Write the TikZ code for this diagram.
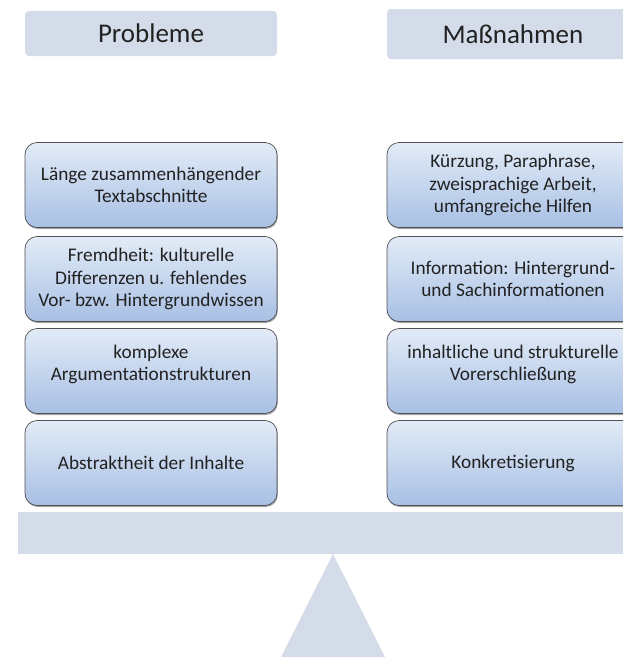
\documentclass[tikz,border=0pt]{standalone}
\usepackage{fontspec}
\setmainfont{Carlito}
\usetikzlibrary{shadows}
\definecolor{hdr}{HTML}{D4DCEA}
\definecolor{boxtop}{HTML}{E2EBF7}
\definecolor{boxbot}{HTML}{A8C0E4}
\definecolor{boxline}{HTML}{505050}
\definecolor{txt}{HTML}{222222}
\tikzset{
  hdrbox/.style={fill=hdr, rounded corners=4pt, minimum width=252pt, inner sep=0pt, outer sep=0pt,
    text=txt, font=\fontsize{27}{32}\selectfont},
  itembox/.style={draw=boxline, line width=0.7pt, rounded corners=12pt, top color=boxtop, bottom color=boxbot,
    minimum width=252pt, minimum height=85pt, inner sep=0pt, outer sep=0pt, align=center, text=txt,
    font=\fontsize{19.3}{22.5}\selectfont,
    drop shadow={shadow xshift=0.8pt, shadow yshift=-1.5pt, opacity=0.35, fill=black}},
  beamshape/.style={fill=hdr, minimum width=622pt, minimum height=42pt, inner sep=0pt, outer sep=0pt},
}
\begin{document}
\begin{tikzpicture}[x=1pt,y=-1pt]
\useasboundingbox (0,0) rectangle (623,657);
\clip (0,0) rectangle (623,657);
% headers
\node[hdrbox, minimum height=45pt] (hl) at (151,33.5) {Probleme};
\node[hdrbox, minimum height=50pt] (hr) at (513,34) {Maßnahmen};
% left column
\node[itembox] (l1) at (151,185) {Länge zusammenhängender\\Textabschnitte};
\node[itembox] (l2) at (151,279) {Fremdheit: kulturelle\\Differenzen u. fehlendes\\Vor- bzw. Hintergrundwissen};
\node[itembox] (l3) at (151,371) {komplexe\\Argumentationstrukturen\\[-6pt]\mbox{}};
\node[itembox] (l4) at (151,463) {Abstraktheit der Inhalte};
% right column
\node[itembox] (r1) at (513,185) {Kürzung, Paraphrase,\\zweisprachige Arbeit,\\umfangreiche Hilfen};
\node[itembox] (r2) at (513,279) {Information: Hintergrund-\\und Sachinformationen};
\node[itembox] (r3) at (513,371) {inhaltliche und strukturelle\\Vorerschließung\\[-6pt]\mbox{}};
\node[itembox] (r4) at (513,463) {Konkretisierung};
% beam and fulcrum
\node[beamshape] (beam) at (329,533) {};
\coordinate (apex) at (333,554);
\coordinate (bl) at (281,657);
\coordinate (br) at (385,657);
\fill[hdr] (apex) -- (bl) -- (br) -- cycle;
\end{tikzpicture}
\end{document}
